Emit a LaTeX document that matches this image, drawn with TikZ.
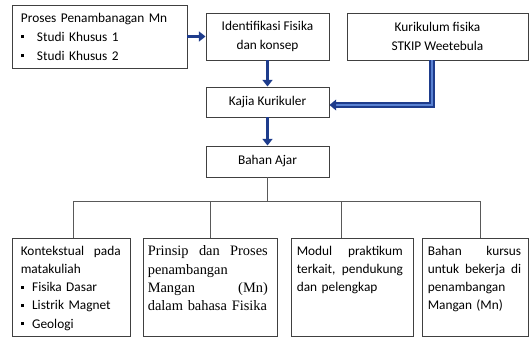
\documentclass[tikz,border=0pt]{standalone}
\usepackage{fontspec}
\setmainfont{Carlito}
\newfontfamily\serifbox{Liberation Serif}
\usepackage{xcolor}
\usepackage{tikz}
\usetikzlibrary{arrows.meta}
\usetikzlibrary{positioning}
\definecolor{arrowblue}{RGB}{30,60,140}
\definecolor{arrowlight}{RGB}{90,130,210}
% justified line: words split by \hfill
\newcommand{\jline}[1]{\leavevmode\hbox to \hsize{#1}\\}
\newcommand{\sqitem}[2][12pt]{\makebox[#1][l]{\rule[0.22em]{2.2pt}{2.2pt}}#2}
\tikzset{
    mybox/.style = {rectangle, draw=black!75, line width=0.7pt, inner sep=0pt, align=center, font=\fontsize{10}{14.25}\selectfont},
    mytext/.style = {inner sep=0pt, anchor=north west, align=left, font=\fontsize{10}{13.7}\selectfont},
}

\begin{document}
\begin{tikzpicture}[x=0.75pt, y=-0.75pt]
\tikzset{
    edgeb/.style = {line width=2.6pt, draw=arrowblue, -{Triangle[length=5pt,width=7.5pt]}},
    edged/.style = {line width=1.4pt, draw=arrowblue, double=arrowlight, double distance=1.4pt, -{Triangle[length=5pt,width=8pt]}},
    edgen/.style = {-, line width=0.7pt, draw=black!65}
}
\useasboundingbox (0,0) rectangle (529,342);
% top row
\node[mybox, minimum width=131.25pt, minimum height=47.25pt, text width=117.75pt, align=left] at (99.5,36.5) (proses) {Proses Penambanagan Mn\\ \sqitem{Studi Khusus 1}\\ \sqitem{Studi Khusus 2}};
\node[mybox, minimum width=92.25pt, minimum height=35.25pt] at (267.5,36.5) (ident) {Identifikasi Fisika\\ dan konsep};
\node[mybox, minimum width=135.75pt, minimum height=35.25pt] at (437.5,36.5) (kurik) {Kurikulum fisika\\ STKIP Weetebula};
%
\node[mybox, minimum width=92.25pt, minimum height=22.5pt] at (267.5,102) (kajian) {Kajia Kurikuler};
\node[mybox, minimum width=92.25pt, minimum height=23.25pt] at (267.5,161.5) (bahan) {Bahan Ajar};
% bottom row
\node[mybox, minimum width=88.5pt, minimum height=73.5pt] at (71,287) (konteks) {};
\node[mybox, minimum width=100.5pt, minimum height=73.5pt] at (210,287) (prinsip) {};
\node[mybox, minimum width=91.5pt, minimum height=73.5pt] at (352,287) (modul) {};
\node[mybox, minimum width=79.5pt, minimum height=73.5pt] at (475,287) (kursus) {};
%
\node[mytext, text width=75pt] at ([shift={(6.75pt,-6pt)}]konteks.north west) (konteks-t) {\jline{Kontekstual\hfill pada}matakuliah\\ \sqitem[8.5pt]{Fisika Dasar}\\ \sqitem[8.5pt]{Listrik Magnet}\\ \sqitem[8.5pt]{Geologi}};
\node[mytext, text width=90pt, font=\serifbox\fontsize{10.8}{13.7}\selectfont] at ([shift={(3.75pt,-6pt)}]prinsip.north west) (prinsip-t) {\jline{Prinsip\hfill dan\hfill Proses}penambangan\\ \jline{Mangan\hfill (Mn)}dalam bahasa Fisika};
\node[mytext, text width=79.5pt] at ([shift={(4.5pt,-6pt)}]modul.north west) (modul-t) {\jline{Modul\hfill praktikum}\jline{terkait,\hfill pendukung}dan pelengkap};
\node[mytext, text width=70pt] at ([shift={(4.5pt,-6pt)}]kursus.north west) (kursus-t) {\jline{Bahan\hfill kursus}\jline{untuk\hfill bekerja\hfill di}penambangan\\ Mangan (Mn)};
%
\draw[edgeb] (proses) -- (ident);
\draw[edgeb] (ident) -- (kajian);
\draw[edgeb] (kajian) -- (bahan);
\draw[edged] ([xshift=-4pt]kurik.south) |- ([yshift=-2.25pt]kajian.east);
%
\coordinate (bus) at (267.5,201);
\draw[edgen] (bahan.south) -- (bus);
\draw[edgen] (bus) -| ([xshift=1.5pt]konteks.north);
\draw[edgen] (bus) -| (prinsip.north);
\draw[edgen] (bus) -| ([xshift=-8.25pt]modul.north);
\draw[edgen] (bus) -| ([xshift=3.75pt]kursus.north);
\end{tikzpicture}
\end{document}
